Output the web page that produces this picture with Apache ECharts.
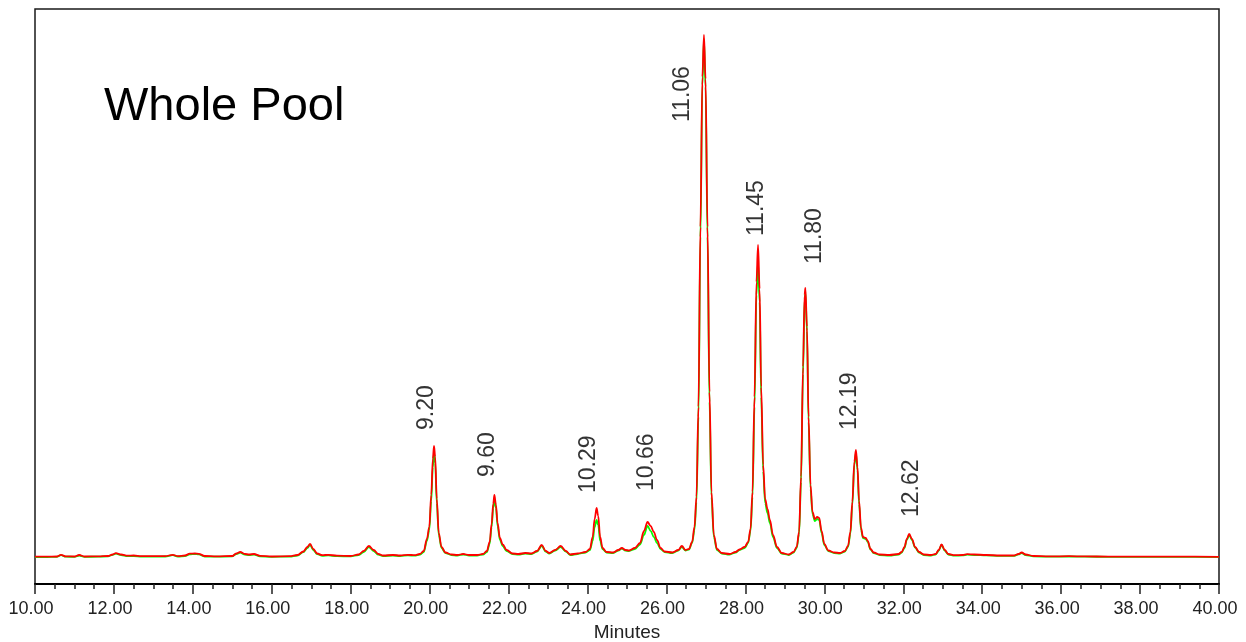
<!DOCTYPE html>
<html>
<head>
<meta charset="utf-8">
<script src="https://cdn.jsdelivr.net/npm/echarts@6/dist/echarts.min.js"></script>
<style>
html,body{margin:0;padding:0;background:#fff;}
#chart{width:1246px;height:642px;}
</style>
</head>
<body>
<div id="chart"></div>
<script>
// ---- data ----
const times = [10.00,10.30,10.55,10.66,10.78,11.00,11.12,11.25,11.60,11.85,11.97,12.05,12.18,12.35,12.50,12.70,13.00,13.30,13.49,13.62,13.80,13.92,14.05,14.15,14.30,14.60,15.00,15.10,15.20,15.32,15.42,15.55,15.70,16.00,16.45,16.65,16.80,16.90,16.97,17.05,17.15,17.28,17.43,17.65,18.00,18.20,18.33,18.46,18.58,18.70,18.82,19.07,19.25,19.45,19.62,19.75,19.85,19.93,19.99,20.04,20.08,20.11,20.14,20.18,20.23,20.30,20.40,20.55,20.70,20.85,21.00,21.20,21.35,21.45,21.52,21.57,21.61,21.64,21.68,21.72,21.78,21.85,21.95,22.10,22.25,22.42,22.58,22.72,22.84,22.94,23.03,23.18,23.32,23.45,23.56,23.75,23.95,24.06,24.13,24.18,24.23,24.27,24.32,24.38,24.48,24.65,24.78,24.87,24.96,25.05,25.20,25.33,25.43,25.52,25.60,25.68,25.76,25.85,25.95,26.15,26.30,26.39,26.48,26.57,26.65,26.71,26.76,26.81,26.86,26.91,26.95,26.99,27.04,27.09,27.14,27.20,27.28,27.40,27.60,27.75,27.85,27.98,28.07,28.13,28.18,28.23,28.28,28.32,28.36,28.40,28.45,28.50,28.56,28.62,28.70,28.80,28.92,29.10,29.22,29.30,29.36,29.41,29.46,29.50,29.52,29.56,29.60,29.65,29.70,29.76,29.82,29.87,29.93,30.00,30.10,30.25,30.40,30.52,30.60,30.66,30.71,30.76,30.80,30.84,30.88,30.93,30.98,31.05,31.10,31.17,31.25,31.40,31.65,31.88,31.96,32.03,32.09,32.15,32.22,32.30,32.40,32.52,32.70,32.82,32.90,32.97,33.05,33.14,33.30,33.50,33.62,33.80,34.10,34.45,34.80,34.92,35.00,35.10,35.30,35.70,36.20,36.60,37.20,38.00,39.00,40.00];

const redSignal = [0.3,0.3,0.5,2.2,0.6,0.5,2,0.5,0.6,1,2.5,3.8,2.5,1.3,1.5,0.8,0.8,0.8,2.2,0.8,1.5,3.3,3.5,3.2,1,0.6,1,3.5,5,3,2.5,3,1.2,0.5,0.8,2,5.5,10,13,8,3.5,1.8,2.2,1.3,1,2.5,6,11,7,3,1.5,2,1.5,2.2,1.8,3,6,18,30,62,98,111,100,58,24,10,4.5,2.5,2,3,2,2,3,6,15,33,53,62,52,34,19,12.5,7,3.5,3,4,3.5,6,12,6,4,7,11,6,2.5,3.5,5,8,20,38,49,41,20,9,5,4.5,7,9,7,6.5,9,14,26,35,31,25,17,9,5.5,4.5,7,11,7,8,15,30,60,150,330,480,522,478,330,165,65,22,8,4,3,5,7.5,10,15,28,65,160,275,312,268,170,92,58,48,37,22,10,4,2.5,5,10,25,80,190,262,269,230,140,72,45,38,40,39,26,13,6.5,4.5,4,6,11,25,55,95,107,90,56,29,20,19,16,8,4.5,2.5,2,3,5,10,18,23,18,10,5,2.5,2,3,7,12.5,7,3,1.8,2,2.8,2.5,2,1.5,1.5,3,4.5,2.5,1,0.6,0.8,0.6,0.4,0.4,0.3,0.2];

const greenSignal = [0,0,0.2,1.8,0.3,0.2,1.5,0.2,0.3,0.7,2.2,3.3,2,0.8,1,0.4,0.4,0.5,1.8,0.5,1,2.6,3,2.6,0.5,0.3,0.6,3,4.3,2.3,2,2.4,0.7,0.2,0.4,1.5,4.8,9,12,7,2.8,1.2,1.6,0.8,0.6,2,5,10,6,2.3,1,1.5,1,1.7,1.3,2.4,5,16,27,56,90,104,94,54,22,9,4,2,1.5,2.5,1.5,1.5,2.5,5,13,30,49,58,49,31,17,11,6,3,2.5,3.5,3,5.5,11,5.5,3.5,6.5,10,5.5,2,3,4.5,7,16,30,37,32,16,8,4.5,4,6.5,8.5,6.5,6,8,12.5,22,31,26,20,14,8,5,4,6.5,10,6.5,7.5,14,27,55,140,320,472,518,470,320,155,60,20,7,3.5,2.5,4.5,7,9,14,26,60,150,262,295,255,160,86,54,44,34,20,9,3.5,2,4.5,9,23,75,183,258,265,226,135,68,43,36,38,37,24,12,6,4,3.5,5.5,10,23,52,92,104,87,53,27,19,18,15,7.5,4,2,1.5,2.5,4.5,9,17,22,17,9.5,4.5,2,1.5,2.5,6.5,12,6.5,2.5,1.3,1.6,2.3,2,1.6,1.1,1.1,2.6,4,2,0.6,0.3,0.5,0.3,0.2,0.1,0.1,0];

const tickLabelsMin = 10, tickLabelsMax = 40, tickStep = 2;

const peakLabelText = ['9.20','9.60','10.29','10.66','11.06','11.45','11.80','12.19','12.62'];
const peakLabelTime = [20.11,21.64,24.23,25.52,26.95,28.32,29.52,30.80,32.15];
const peakLabelHeight = [111,62,49,35,522,312,269,107,23];

// ---- styling: nudges for the rotated peak labels, in the label's rotated frame [along text, across text] ----
const labelNudge = [[16,-7],[18,-6.5],[15,-8],[31,-1],[-87,-21.5],[9,-1.5],[24,9],[20,-6],[17,2.5]];

const FONT = 'Liberation Sans, Arial, Helvetica, sans-serif';
const red = times.map((t,i)=>[t, redSignal[i]]);
const green = times.map((t,i)=>[t, greenSignal[i]]);
const labelData = peakLabelTime.map((t,i)=>({
  value:[t, peakLabelHeight[i]],
  label:{offset: labelNudge[i], formatter: peakLabelText[i]}
}));

const chart = echarts.init(document.getElementById('chart'), null, {renderer:'canvas'});
chart.setOption({
  animation:false,
  backgroundColor:'#ffffff',
  grid:{left:35, right:27, top:9, bottom:58, containLabel:false, outerBoundsMode:'none',
    show:true, borderColor:'#1a1a1a', borderWidth:1.5, backgroundColor:'transparent'},
  graphic:[{
    type:'text', left:104, top:84,
    style:{text:'Whole Pool', font:'47px '+FONT, fill:'#000'}
  }],
  xAxis:{
    type:'value', min:tickLabelsMin, max:tickLabelsMax, interval:tickStep,
    name:'Minutes', nameLocation:'middle', nameGap:39,
    nameTextStyle:{fontFamily:FONT, fontSize:19, color:'#222'},
    axisLine:{show:true, onZero:false, lineStyle:{color:'#000', width:2}},
    axisTick:{show:true, length:10, lineStyle:{color:'#222', width:1.5}},
    minorTick:{show:true, splitNumber:4, length:5, lineStyle:{color:'#222', width:1.5}},
    splitLine:{show:false},
    axisLabel:{fontFamily:FONT, fontSize:18, color:'#222', margin:16, padding:[0,8,0,0],
      formatter:(v)=>v.toFixed(2)}
  },
  yAxis:{type:'value', min:-27, max:548, show:false, splitLine:{show:false}},
  series:[
    {type:'line', data:green, showSymbol:false, smooth:0.35, smoothMonotone:'x',
      lineStyle:{color:'#00ff00', width:1.8}, z:2},
    {type:'line', data:red, showSymbol:false, smooth:0.35, smoothMonotone:'x',
      lineStyle:{color:'#ff0000', width:1.8}, z:3},
    {type:'scatter', data:labelData, symbolSize:0.1, itemStyle:{color:'transparent'}, z:4,
      silent:true,
      label:{show:true, position:'inside', rotate:90, align:'left', verticalAlign:'middle',
        fontFamily:FONT, fontSize:23, color:'#000'}}
  ]
});
</script>
</body>
</html>
